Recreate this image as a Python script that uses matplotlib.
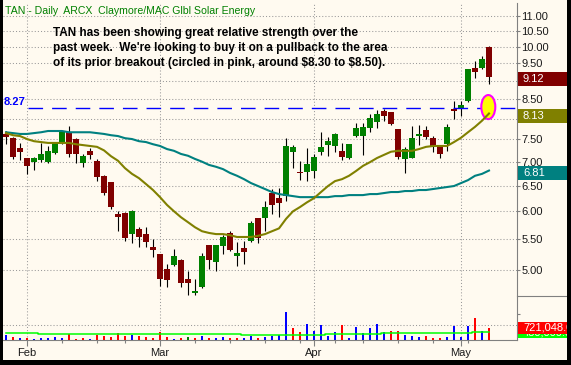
import matplotlib
matplotlib.use("Agg")
import matplotlib.pyplot as plt
import matplotlib.transforms as mtransforms
from matplotlib.patches import Rectangle, Ellipse
from matplotlib.lines import Line2D
from matplotlib.ticker import FixedLocator, FixedFormatter, NullLocator
import numpy as np

plt.rcParams['font.family'] = ['Liberation Sans', 'DejaVu Sans']

# TAN daily bars, 28 Jan - 7 May 2009
opens = [7.63, 7.53, 7.30, 7.08, 7.00, 7.04, 7.00, 7.19, 7.42, 7.67,
         7.51, 6.97, 7.24, 7.02, 6.70, 6.57, 5.95, 5.97, 5.59, 5.68,
         5.59, 5.37, 5.25, 5.02, 5.08, 5.16, 4.86, 4.65, 4.74, 5.40,
         5.13, 5.39, 5.61, 5.22, 5.35, 5.47, 5.87, 5.87, 6.35, 6.25,
         6.29, 7.22, 6.78, 6.78, 6.80, 7.22, 7.37, 7.35, 7.24, 7.08,
         7.58, 7.58, 7.77, 7.92, 8.20, 8.17, 7.74, 7.06, 7.08, 7.58,
         7.72, 7.53, 7.37, 7.39, 8.25, 8.27, 8.45, 9.36, 9.36, 10.00]
highs = [7.70, 7.55, 7.42, 7.09, 7.11, 7.42, 7.35, 7.43, 7.68, 7.82,
         7.53, 7.16, 7.30, 7.06, 6.72, 6.58, 6.01, 5.98, 6.02, 5.71,
         5.71, 5.50, 5.26, 5.09, 5.34, 5.17, 4.98, 4.86, 5.27, 5.41,
         5.41, 5.57, 5.64, 5.45, 5.47, 5.82, 5.88, 6.19, 6.43, 6.45,
         7.53, 7.37, 7.02, 7.30, 7.17, 7.67, 7.56, 7.65, 7.42, 7.40,
         7.89, 7.89, 8.12, 8.22, 8.25, 8.18, 7.75, 7.33, 7.82, 7.84,
         7.82, 7.58, 7.38, 7.87, 8.45, 8.45, 9.33, 9.57, 9.72, 10.02]
lows = [7.39, 7.06, 7.04, 6.74, 6.82, 7.00, 6.98, 7.17, 7.40, 7.11,
        6.97, 6.89, 7.06, 6.59, 6.31, 6.04, 5.64, 5.47, 5.44, 5.37,
        5.37, 5.21, 4.76, 4.74, 5.07, 4.74, 4.63, 4.63, 4.73, 5.02,
        4.98, 5.26, 5.30, 5.06, 5.09, 5.45, 5.44, 5.64, 5.95, 5.89,
        6.19, 6.86, 6.61, 6.59, 6.65, 7.15, 7.13, 7.22, 7.04, 7.06,
        7.56, 7.15, 7.67, 7.77, 7.94, 7.84, 7.06, 6.76, 7.07, 7.37,
        7.51, 7.22, 7.08, 7.24, 7.99, 8.07, 8.43, 9.07, 9.35, 8.91]
closes = [7.56, 7.11, 7.22, 6.91, 7.08, 7.17, 7.24, 7.42, 7.67, 7.17,
          7.16, 7.13, 7.15, 6.67, 6.35, 6.08, 5.89, 5.52, 6.01, 5.54,
          5.45, 5.32, 4.86, 4.85, 5.22, 4.80, 4.80, 4.68, 5.22, 5.16,
          5.40, 5.54, 5.32, 5.27, 5.29, 5.79, 5.52, 6.08, 6.12, 6.15,
          7.35, 7.33, 6.76, 6.95, 7.11, 7.33, 7.46, 7.63, 7.11, 7.39,
          7.77, 7.79, 8.02, 8.12, 8.07, 7.87, 7.11, 7.28, 7.53, 7.63,
          7.56, 7.35, 7.17, 7.79, 8.20, 8.35, 9.33, 9.24, 9.63, 9.12]

# moving averages drawn on the chart
ma_short = [7.65, 7.60, 7.58, 7.51, 7.46, 7.44, 7.42, 7.42, 7.42, 7.42,
            7.39, 7.37, 7.35, 7.33, 7.25, 7.12, 7.02, 6.86, 6.74, 6.65,
            6.53, 6.41, 6.27, 6.12, 6.00, 5.89, 5.80, 5.71, 5.64, 5.61,
            5.59, 5.59, 5.57, 5.54, 5.54, 5.54, 5.56, 5.59, 5.64, 5.69,
            5.86, 6.00, 6.08, 6.17, 6.25, 6.37, 6.49, 6.59, 6.63, 6.70,
            6.80, 6.91, 6.99, 7.08, 7.15, 7.22, 7.24, 7.24, 7.24, 7.28,
            7.33, 7.35, 7.35, 7.35, 7.44, 7.54, 7.67, 7.80, 7.95, 8.13]
ma_long = [7.67, 7.65, 7.63, 7.63, 7.65, 7.67, 7.70, 7.70, 7.70, 7.67,
           7.67, 7.67, 7.67, 7.65, 7.63, 7.60, 7.58, 7.53, 7.51, 7.46,
           7.44, 7.39, 7.35, 7.28, 7.24, 7.17, 7.13, 7.06, 7.00, 6.93,
           6.89, 6.84, 6.76, 6.70, 6.63, 6.55, 6.49, 6.43, 6.37, 6.33,
           6.31, 6.29, 6.27, 6.27, 6.27, 6.27, 6.27, 6.29, 6.29, 6.31,
           6.31, 6.31, 6.33, 6.33, 6.35, 6.37, 6.37, 6.39, 6.39, 6.41,
           6.41, 6.43, 6.45, 6.47, 6.49, 6.55, 6.61, 6.70, 6.74, 6.81]

volume = [300, 180, 120, 120, 60, 120, 120, 180, 120, 360,
          60, 120, 60, 300, 240, 180, 420, 240, 300, 240,
          180, 120, 480, 180, 60, 120, 180, 120, 240, 120,
          120, 180, 120, 120, 120, 240, 120, 180, 240, 300,
          1680, 720, 480, 960, 540, 900, 240, 480, 900, 120,
          780, 420, 720, 960, 480, 540, 540, 300, 240, 180,
          240, 120, 120, 180, 840, 180, 840, 1320, 540, 721.048]
volume = [v * 1000 for v in volume]
# +1 higher close, -1 lower close, 0 unchanged
vol_dir = [1, -1, 1, -1, 1, 1, 1, 1, 1, -1,
           -1, -1, 1, -1, -1, -1, -1, -1, 1, -1,
           -1, -1, -1, -1, 1, -1, 0, -1, 1, -1,
           1, 1, -1, -1, 1, 1, -1, 1, 1, 1,
           1, -1, -1, 1, 1, 1, 1, 1, -1, 1,
           1, 1, 1, 1, 1, -1, -1, 1, 1, 1,
           -1, -1, -1, 1, 1, 1, 1, -1, 1, -1]
vol_ma = [400] * 5 + [340] * 29 + [280] * 12 + [340] * 8 + [400] * 13 + [480] * 3
vol_ma = [v * 1000 for v in vol_ma]

month_idx = [3, 22, 44, 65]
month_labels = ['Feb', 'Mar', 'Apr', 'May']
week_idx = [8, 13, 17, 27, 32, 37, 42, 47, 51, 56, 61, 66]
price_ticks = [5.0, 5.5, 6.0, 6.5, 7.0, 7.5, 8.0, 8.5, 9.0, 9.5, 10.0, 10.5, 11.0]
breakout = 8.27
target_zone = 8.30

title = 'TAN - Daily  ARCX  Claymore/MAC Glbl Solar Energy'
comment = ("TAN has been showing great relative strength over the\n"
           "past week.  We're looking to buy it on a pullback to the area\n"
           "of its prior breakout (circled in pink, around \\$8.30 to \\$8.50).")

cream = '#FFFAF0'
grid_kw = dict(color='#9a9a9a', linestyle=(0, (1, 2)), linewidth=0.75)

W, H = 571, 365
fig = plt.figure(figsize=(W / 100, H / 100), dpi=100)
fig.patch.set_facecolor('black')
fig.add_artist(Rectangle((3 / W, 5 / H), 564 / W, 360 / H, transform=fig.transFigure,
                         facecolor=cream, edgecolor='none', zorder=-1))

ax = fig.add_axes([3 / W, 69 / H, 514 / W, 293 / H], facecolor=cream)
axv = fig.add_axes([3 / W, 25 / H, 514 / W, 44 / H], facecolor=cream)

x = np.arange(len(closes))
o, h, l, c = map(np.array, (opens, highs, lows, closes))
ymin, ymax = 4.612, 11.46

# ---- price panel
ax.set_yscale('log')
ax.set_ylim(ymin, ymax)
ax.set_xlim(-0.43, 73.0)

ax.vlines(x, l, h, color='black', linewidth=0.8, zorder=2)
up = c >= o
bottom = np.minimum(o, c)
height = np.maximum(np.abs(c - o), bottom * 0.004)
ax.bar(x, height, 0.8, bottom=bottom, color=np.where(up, '#008000', '#800000'),
       linewidth=0, zorder=3)

ax.axhline(breakout, xmin=0.049, color='#0000FF', linewidth=1.0, dashes=(10.5, 6.5), zorder=3.5)
ax.annotate(f'{breakout:.2f}', xy=(0.002, breakout),
            xycoords=mtransforms.blended_transform_factory(ax.transAxes, ax.transData),
            xytext=(0, 2.5), textcoords='offset points', va='baseline', ha='left',
            fontsize=8, fontweight='bold', color='#0000FF')

ax.add_patch(Ellipse((len(x) - 1.1, target_zone), 2.0, 0.62, facecolor='#FFFF00',
                     edgecolor='#FF00FF', linewidth=1.5, zorder=4))

ax.plot(x, ma_long, color='#008080', linewidth=1.5, zorder=5)
ax.plot(x, ma_short, color='#808000', linewidth=1.5, zorder=5)

for s in ['top', 'left', 'bottom']:
    ax.spines[s].set_visible(False)
ax.spines['right'].set_color('#808080')
ax.yaxis.tick_right()
ax.yaxis.set_major_locator(FixedLocator(price_ticks))
ax.yaxis.set_major_formatter(FixedFormatter(
    ['' if t in (8.0, 9.0) else f'{t:.2f}' for t in price_ticks]))
ax.yaxis.set_minor_locator(NullLocator())
ax.tick_params(axis='y', direction='out', length=2.5, width=0.8, color='#808080',
               pad=0.5, labelsize=8, labelcolor='#1a1a1a')
ax.set_xticks(month_idx)
ax.tick_params(axis='x', length=0, labelbottom=False)
ax.grid(True, axis='both', **grid_kw)
ax.set_axisbelow(True)

ax.text(0.004, 0.99, title, transform=ax.transAxes, va='top', ha='left',
        fontsize=7.6, color='#008000')
ax.text(0.0973, 0.917, comment, transform=ax.transAxes, va='top', ha='left',
        fontsize=8.5, fontweight='bold', color='black', linespacing=1.33)

# value tags on the price scale
px_per_ln = 293 / np.log(ymax / ymin)
trans_p = mtransforms.blended_transform_factory(ax.transAxes, ax.transData)
for val, col in [(closes[-1], '#800000'), (ma_short[-1], '#808000'), (ma_long[-1], '#008080')]:
    lo = val * np.exp(-9 / px_per_ln)
    hi = val * np.exp(5 / px_per_ln)
    ax.add_patch(Rectangle((1.002, lo), 0.12, hi - lo, transform=trans_p, clip_on=False,
                           facecolor=col, edgecolor='none', zorder=6))
    ax.text(1.0115, val * np.exp(-2 / px_per_ln), f'{val:.2f}', transform=trans_p,
            va='center', ha='left', fontsize=8, color='white', zorder=7, clip_on=False)

# ---- volume panel
vmax = 44 * 60087
axv.set_xlim(-0.43, 73.0)
axv.set_ylim(0, vmax)
vcolors = {1: '#0000FF', -1: '#FF0000', 0: '#008000'}
axv.bar(x, volume, 0.42, color=[vcolors[d] for d in vol_dir], linewidth=0, zorder=3)
axv.plot(x, vol_ma, color='#00FF00', linewidth=1.1, drawstyle='steps-mid', zorder=4)
axv.axhline(15 * 60087, **grid_kw, zorder=1)

for s in ['top', 'left']:
    axv.spines[s].set_visible(False)
axv.spines['right'].set_color('#808080')
axv.spines['bottom'].set_color('#808080')
axv.yaxis.tick_right()
axv.set_yticks([26 * 60087])
axv.set_yticklabels([''])
axv.tick_params(axis='y', direction='out', length=2.5, width=0.8, color='#808080')
axv.set_xticks(month_idx)
axv.set_xticklabels(month_labels)
axv.set_xticks(week_idx, minor=True)
axv.tick_params(axis='x', which='major', direction='out', length=4.5, width=0.8,
                color='#808080', pad=1.5, labelsize=8, labelcolor='#1a1a1a')
axv.tick_params(axis='x', which='minor', direction='out', length=2.2, width=0.8,
                color='#808080')
axv.grid(True, axis='x', which='major', **grid_kw)
axv.set_axisbelow(True)

# volume tags: the average tag sits under the last-volume tag
px_vol = vmax / 44
trans_v = mtransforms.blended_transform_factory(axv.transAxes, axv.transData)
for k, (val, col) in enumerate([(vol_ma[-1], '#00FF00'), (volume[-1], '#FF0000')]):
    axv.add_patch(Rectangle((1.002, val - 6 * px_vol), 0.12, 12 * px_vol, transform=trans_v,
                            clip_on=False, facecolor=col, edgecolor='none', zorder=6 + 2 * k))
    axv.text(1.0115, val, f'{val:,.1f}', transform=trans_v, va='center', ha='left',
             fontsize=8, color='white', zorder=7 + 2 * k, clip_on=False)

fig.add_artist(Line2D([517 / W, 567 / W], [69 / H, 69 / H], color='#808080',
                      linewidth=0.8, zorder=8))
# black frame strips
for rect in [(0, 0, 3 / W, 1), (567 / W, 0, 4 / W, 1), (0, 0, 1, 5 / H)]:
    fig.add_artist(Rectangle(rect[:2], rect[2], rect[3], transform=fig.transFigure,
                             facecolor='black', edgecolor='none', zorder=10))

fig.savefig('out.png', dpi=100, facecolor=fig.get_facecolor())
